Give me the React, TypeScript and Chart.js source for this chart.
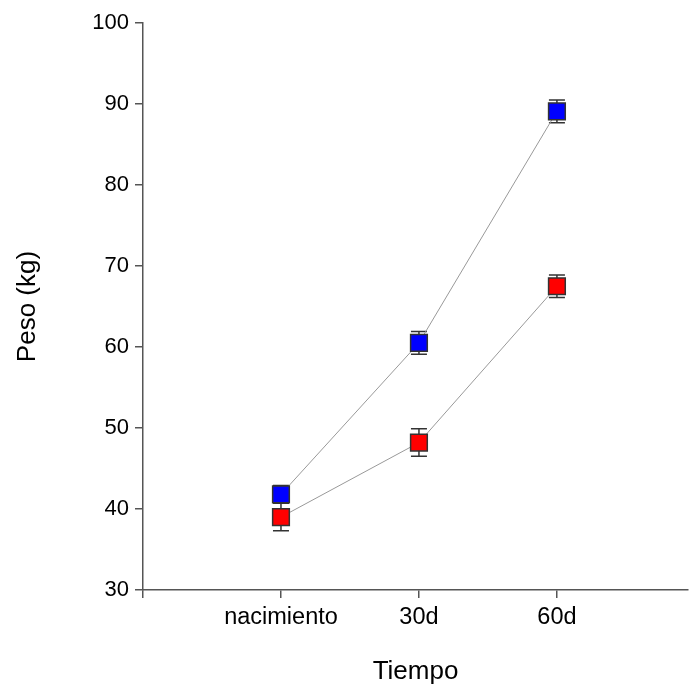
import React, { useEffect, useRef } from "react";
import { Chart, registerables } from "chart.js";

Chart.register(...registerables);

const categories = ["nacimiento", "30d", "60d"];
const categoryPositions = [1, 2, 3];
const blueValues = [41.8, 60.5, 89.1];
const blueErrors = [1.1, 1.4, 1.4];
const redValues = [39.0, 48.2, 67.5];
const redErrors = [1.7, 1.7, 1.4];
const yTicks = [30, 40, 50, 60, 70, 80, 90, 100];
const xMin = 0;
const xMax = 3.95;

const FONT = "'Liberation Sans', Arial, sans-serif";

const errorBarPlugin = {
  id: "errorBars",
  beforeDatasetsDraw(chart: any) {
    const ctx = chart.ctx;
    const xs = chart.scales.x;
    const ys = chart.scales.y;
    chart.data.datasets.forEach((ds: any) => {
      const errs: number[] = ds.errors || [];
      ds.data.forEach((p: any, i: number) => {
        const e = errs[i];
        if (e == null) return;
        const x = xs.getPixelForValue(p.x);
        const yt = ys.getPixelForValue(p.y + e);
        const yb = ys.getPixelForValue(p.y - e);
        const hw = 8;
        ctx.save();
        ctx.strokeStyle = "#333";
        ctx.lineWidth = 1.5;
        ctx.beginPath();
        ctx.moveTo(x, yt);
        ctx.lineTo(x, yb);
        ctx.moveTo(x - hw, yt);
        ctx.lineTo(x + hw, yt);
        ctx.moveTo(x - hw, yb);
        ctx.lineTo(x + hw, yb);
        ctx.stroke();
        ctx.restore();
      });
    });
  },
};

export default function App() {
  const ref = useRef<HTMLCanvasElement | null>(null);
  useEffect(() => {
    if (!ref.current) return;
    const mk = (vals: number[]) => vals.map((v, i) => ({ x: categoryPositions[i], y: v }));
    const common = {
      borderColor: "#999",
      borderWidth: 1,
      pointStyle: "rect",
      pointRadius: 11.8,
      pointBorderColor: "#333",
      pointBorderWidth: 1.5,
      tension: 0,
    };
    const chart = new Chart(ref.current, {
      type: "line",
      data: {
        datasets: [
          { ...common, data: mk(blueValues), errors: blueErrors, pointBackgroundColor: "#0000FF" } as any,
          { ...common, data: mk(redValues), errors: redErrors, pointBackgroundColor: "#FF0000" } as any,
        ],
      },
      options: {
        responsive: false,
        animation: false,
        layout: { autoPadding: false, padding: { top: 23, right: 1, left: 0, bottom: 0 } },
        plugins: { legend: { display: false }, tooltip: { enabled: false } },
        scales: {
          x: {
            type: "linear",
            min: xMin,
            max: xMax,
            afterBuildTicks: (s: any) => {
              s.ticks = [xMin, ...categoryPositions].map((v) => ({ value: v }));
            },
            afterFit: (s: any) => {
              s.height = 100;
              s.paddingRight = 0;
              s.paddingLeft = 0;
            },
            ticks: {
              callback: (v: any) => {
                const idx = categoryPositions.indexOf(Number(v));
                return idx >= 0 ? categories[idx] : "";
              },
              color: "#000",
              font: { family: FONT, size: 23.5 },
              padding: 5,
              maxRotation: 0,
              autoSkip: false,
            },
            grid: {
              drawOnChartArea: false,
              drawTicks: true,
              tickLength: 8,
              color: "#555",
              lineWidth: 1.5,
            },
            border: { display: true, color: "#555", width: 1.5 },
            title: {
              display: true,
              text: "Tiempo",
              color: "#000",
              font: { family: FONT, size: 26 },
              padding: { top: 0, bottom: 3 },
            },
          },
          y: {
            type: "linear",
            min: yTicks[0],
            max: yTicks[yTicks.length - 1],
            afterBuildTicks: (s: any) => {
              s.ticks = yTicks.map((v) => ({ value: v }));
            },
            afterFit: (s: any) => {
              s.width = 143;
            },
            ticks: {
              color: "#000",
              font: { family: FONT, size: 22 },
              padding: 6,
            },
            grid: { drawOnChartArea: false, drawTicks: true, tickLength: 8, color: "#555", lineWidth: 1.5 },
            border: { display: true, color: "#555", width: 1.5 },
            title: {
              display: true,
              text: "Peso (kg)",
              color: "#000",
              font: { family: FONT, size: 26 },
              padding: { top: 12, bottom: 0 },
            },
          },
        },
      },
      plugins: [errorBarPlugin],
    } as any);
    return () => chart.destroy();
  }, []);
  return (
    <div style={{ position: "fixed", left: 0, top: 0, width: 689, height: 690, background: "#fff" }}>
      <canvas ref={ref} width={689} height={690} />
    </div>
  );
}
